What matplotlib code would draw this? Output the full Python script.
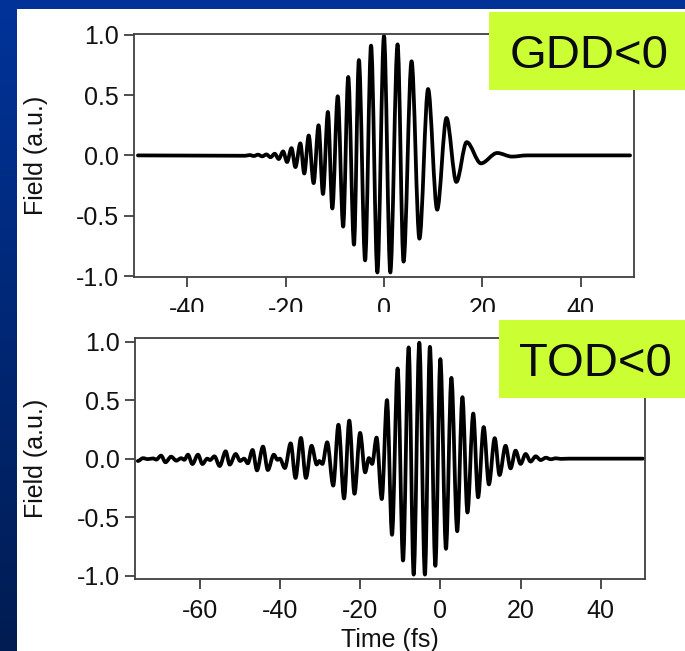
import numpy as np
import matplotlib
matplotlib.use('Agg')
import matplotlib.pyplot as plt
from matplotlib.path import Path
from matplotlib.patches import PathPatch, Rectangle
from matplotlib.colors import LinearSegmentedColormap

plt.rcParams['font.family'] = ['Liberation Sans', 'DejaVu Sans']
plt.rcParams['axes.unicode_minus'] = False

# extrema of the field: time (fs), field (a.u.)
gdd_t = [-50, -28.2, -27.3, -26.45, -25.6, -24.75, -23.9, -23.05, -22.2, -21.4, -20.5,
         -19.7, -18.8, -18.0, -17.0, -16.2, -15.3, -14.3, -13.3, -12.4, -11.4,
         -10.5, -9.4, -8.3, -7.27, -6.1, -5.1, -3.84, -2.63, -1.35, 0.0,
         1.28, 2.76, 3.97, 5.6, 7.2, 8.96, 10.8, 12.7, 14.7, 16.8,
         19.7, 23.0, 26.0, 29.0, 50]
gdd_v = [0, -0.003, 0.003, -0.005, 0.006, -0.008, 0.008, -0.015, 0.014, -0.03, 0.033,
         -0.055, 0.06, -0.097, 0.10, -0.15, 0.165, -0.23, 0.25, -0.32, 0.36,
         -0.44, 0.49, -0.59, 0.65, -0.74, 0.79, -0.87, 0.91, -0.97, 0.99,
         -0.97, 0.92, -0.88, 0.78, -0.69, 0.55, -0.45, 0.31, -0.22, 0.11,
         -0.066, 0.02, -0.01, 0, 0]

tod_t = [-75.4, -74.1, -72.9, -71.6, -70.8, -69.6, -68.5, -67.1, -65.8, -64.6,
         -63.8, -62.9, -61.8, -60.4, -59.3, -58.1, -57.4, -56.3, -55.0, -53.5,
         -52.5, -51.0, -49.9, -48.9, -48.0, -46.8, -45.7, -44.2, -43.0, -41.5,
         -40.6, -40.0, -38.75, -37.3, -36.1, -34.75, -33.5, -32.1, -30.8, -30.2,
         -29.4, -28.2, -26.7, -25.4, -24.0, -22.7, -21.4, -20.0, -18.75, -17.8,
         -17.0, -15.9, -14.6, -13.3, -12.05, -10.65, -9.3, -7.9, -6.65, -5.25,
         -3.85, -2.6, -1.25, 0.0, 1.4, 2.75, 4.2, 5.5, 6.75, 8.2,
         9.4, 10.8, 12.1, 13.55, 14.75, 16.25, 17.5, 18.75, 20.0, 21.25,
         22.5, 23.75, 25.0, 26.3, 27.5, 28.8, 30.0, 32.0, 50.5]
tod_v = [-0.02, 0.004, -0.004, 0.002, -0.008, 0.026, -0.031, 0.017, -0.017, 0.004,
         -0.01, 0.034, -0.046, 0.034, -0.046, 0.0, -0.012, 0.02, -0.063, 0.063,
         -0.051, 0.040, -0.02, 0.0, -0.04, 0.074, -0.10, 0.103, -0.097, 0.034,
         -0.01, 0.0, -0.08, 0.131, -0.165, 0.177, -0.165, 0.11, -0.05, -0.02,
         -0.045, 0.14, -0.23, 0.29, -0.34, 0.325, -0.30, 0.22, -0.117, 0.005,
         -0.045, 0.18, -0.345, 0.50, -0.65, 0.77, -0.87, 0.95, -0.99, 0.99,
         -0.99, 0.955, -0.915, 0.85, -0.77, 0.69, -0.62, 0.525, -0.46, 0.385,
         -0.33, 0.27, -0.22, 0.175, -0.14, 0.11, -0.083, 0.068, -0.045, 0.04,
         -0.025, 0.02, -0.012, 0.008, -0.005, 0.003, -0.002, 0.0, 0.0]

gdd_xticks = [-40, -20, 0, 20, 40]
tod_xticks = [-60, -40, -20, 0, 20, 40]
yticks = [-1.0, -0.5, 0.0, 0.5, 1.0]

W, H = 685, 651


def fx(px):
    return px / W


def fy(py):
    return 1 - py / H


def wave(t, v):
    # smooth curve through the extrema, flat tangent at each one
    verts = [(t[0], v[0])]
    codes = [Path.MOVETO]
    for i in range(1, len(t)):
        dt = t[i] - t[i - 1]
        verts += [(t[i - 1] + dt / 3, v[i - 1]), (t[i] - dt / 3, v[i]), (t[i], v[i])]
        codes += [Path.CURVE4] * 3
    return Path(verts, codes)


def style(ax, t, v, xticks, xlim, ylim):
    ax.add_patch(PathPatch(wave(t, v), fill=False, lw=2.7, color='black',
                           capstyle='round', joinstyle='round'))
    ax.set_xlim(*xlim)
    ax.set_ylim(*ylim)
    ax.set_xticks(xticks)
    ax.set_xticklabels([str(x) for x in xticks])
    ax.set_yticks(yticks)
    ax.set_yticklabels(['%.1f' % y for y in yticks])
    for s in ax.spines.values():
        s.set_color('#404040')
        s.set_linewidth(1.3)
    ax.tick_params(direction='out', length=7, width=1.3, color='#404040',
                   labelsize=18, labelcolor='#111111')
    ax.tick_params(axis='x', pad=7)
    ax.tick_params(axis='y', pad=4)
    ax.set_ylabel('Field (a.u.)', fontsize=18, va='center', color='#111111')


fig = plt.figure(figsize=(W / 100, H / 100), dpi=100)

bg = fig.add_axes([0, 0, 1, 1], zorder=-10)
cmap = LinearSegmentedColormap.from_list('slide', ['#003399', '#001c52'])
bg.imshow(np.linspace(0, 1, 256)[:, None], cmap=cmap, aspect='auto', extent=[0, 1, 0, 1])
bg.axis('off')

fig.add_artist(Rectangle((fx(17), fy(312)), fx(668), 303 / H, transform=fig.transFigure,
                         facecolor='white', edgecolor='none', zorder=0.5))

ax1 = fig.add_axes([fx(134), fy(277.3), fx(500), 243.8 / H], zorder=1)
ax1.set_facecolor('none')
style(ax1, gdd_t, gdd_v, gdd_xticks, (-50.8, 50.8), (-1.01, 1.01))
ax1.yaxis.set_label_coords((36 - 134) / 500, 0.5)

# second slide panel hides the lower half of the top tick labels
fig.add_artist(Rectangle((fx(17), 0), fx(668), 339 / H, transform=fig.transFigure,
                         facecolor='white', edgecolor='none', zorder=2))

ax2 = fig.add_axes([fx(135), fy(579.3), fx(510), 241.3 / H], zorder=3)
ax2.set_facecolor('none')
style(ax2, tod_t, tod_v, tod_xticks, (-76.1, 51.0), (-1.03, 1.03))
ax2.yaxis.set_label_coords((36 - 135) / 510, 0.5)
ax2.set_xlabel('Time (fs)', fontsize=18, color='#111111', labelpad=4)

green = '#ccff33'
fig.add_artist(Rectangle((fx(489), fy(90)), fx(196), 78 / H, transform=fig.transFigure,
                         facecolor=green, edgecolor='none', zorder=5))
fig.text(fx(589), fy(68), 'GDD<0', ha='center', va='baseline', fontsize=34,
         color='#0a0a14', zorder=6)
fig.add_artist(Rectangle((fx(499), fy(398)), fx(186), 78 / H, transform=fig.transFigure,
                         facecolor=green, edgecolor='none', zorder=5))
fig.text(fx(595), fy(376), 'TOD<0', ha='center', va='baseline', fontsize=34,
         color='#0a0a14', zorder=6)

fig.savefig('out.png', dpi=100)
